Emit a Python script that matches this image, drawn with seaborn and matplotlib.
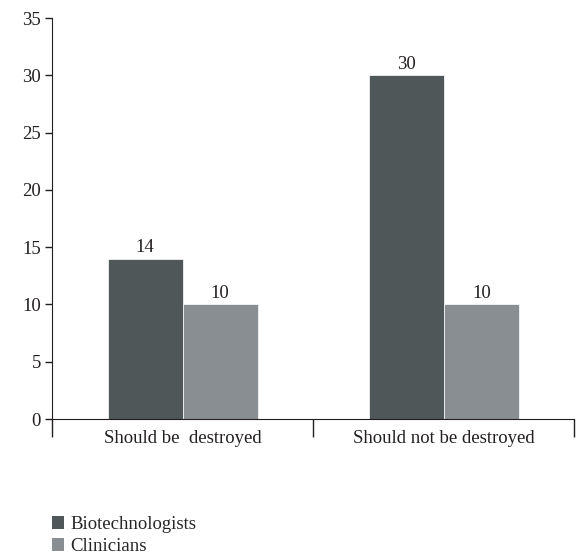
import pandas as pd
import numpy as np
import seaborn as sns
import matplotlib.pyplot as plt
from matplotlib.patches import Patch

# data
categories = ["Should be  destroyed", "Should not be destroyed"]
groups = ["Biotechnologists", "Clinicians"]
biotech = [14, 30]
clinicians = [10, 10]

df = pd.DataFrame({
    "category": categories * 2,
    "group": [groups[0]] * 2 + [groups[1]] * 2,
    "value": biotech + clinicians,
})

sns.set_style("white")
plt.rcParams['font.family'] = ['Liberation Serif', 'DejaVu Serif']

pal = {"Biotechnologists": "#505759", "Clinicians": "#898e93"}
ink = "#231f20"

fig = plt.figure(figsize=(5.76, 5.58), dpi=100)
ax = fig.add_axes([0.0903, 0.249, 0.907, 0.7187])

sns.barplot(data=df, x="category", y="value", hue="group", palette=pal,
            width=0.574, gap=0, saturation=1, ax=ax, legend=False,
            order=categories, hue_order=groups, linewidth=0.5, edgecolor="white")

for c in ax.containers:
    ax.bar_label(c, fontsize=13.5, padding=2, color=ink)

ax.set_xlim(-0.5, 1.5)
ax.set_ylim(0, 35)
ax.set_yticks(range(0, 36, 5))
ax.set_xlabel("")
ax.set_ylabel("")

ax.spines['top'].set_visible(False)
ax.spines['right'].set_visible(False)
ax.spines['left'].set_color(ink)
ax.spines['bottom'].set_color(ink)

ax.tick_params(axis='y', direction='out', length=5, width=1, colors=ink,
               labelsize=13.5, left=True, pad=3)
ax.tick_params(axis='x', which='major', length=0, labelsize=13.5,
               labelcolor=ink, pad=8)
ax.set_xticks([-0.5, 0.5, 1.5], minor=True)
ax.tick_params(axis='x', which='minor', direction='out', length=13, width=1,
               color=ink, bottom=True)

# legend below the plot
handles = [Patch(facecolor=pal[g], edgecolor='none') for g in groups]
fig.legend(handles, groups, loc='upper left', bbox_to_anchor=(0.09, 0.075),
           frameon=False, fontsize=13.5, handlelength=0.65, handleheight=0.65,
           handletextpad=0.35, labelspacing=0.25, borderaxespad=0,
           borderpad=0)

fig.savefig("out.png", dpi=100)
